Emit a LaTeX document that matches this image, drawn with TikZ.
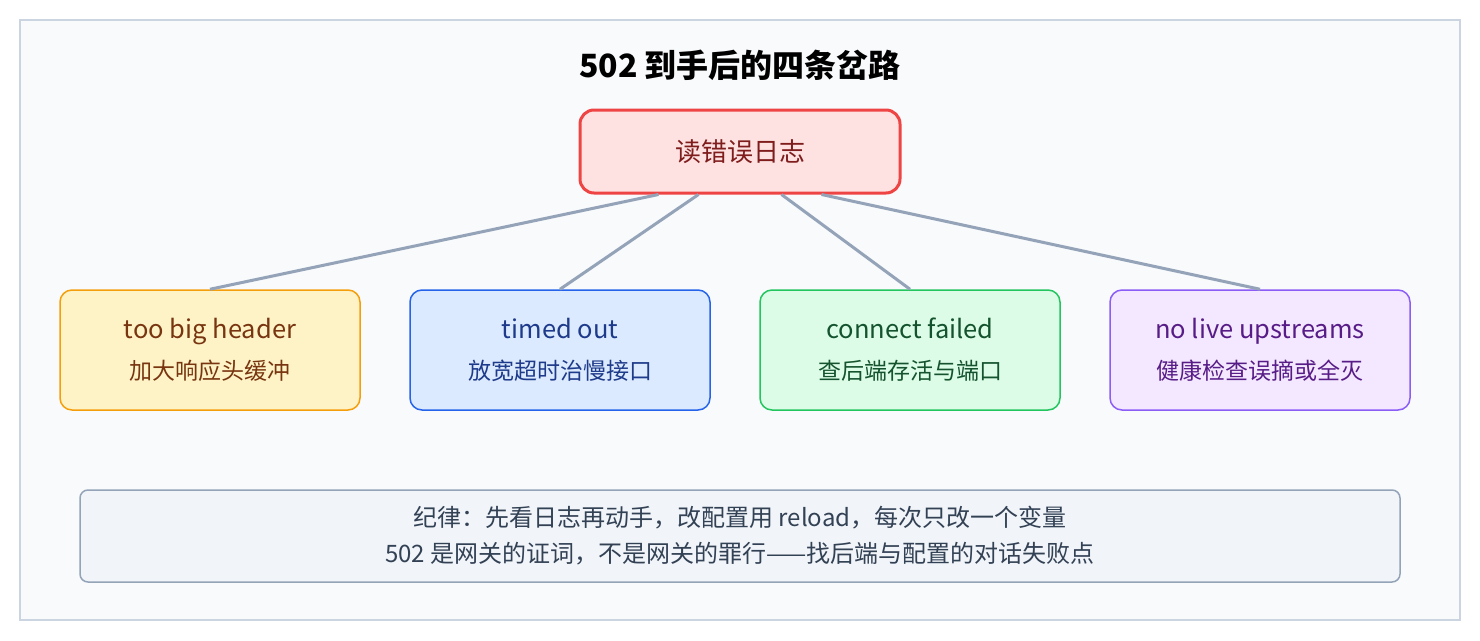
\documentclass[tikz,border=0pt]{standalone}
\usepackage{fontspec}
\setmainfont{Noto Sans CJK SC}
\usetikzlibrary{positioning}
\definecolor{bgfill}{HTML}{F8FAFC}
\definecolor{bgline}{HTML}{CBD5E1}
\definecolor{linkc}{HTML}{94A3B8}
\definecolor{rootline}{HTML}{EF4444}
\definecolor{rootfill}{HTML}{FEE2E2}
\definecolor{roottext}{HTML}{7F1D1D}
\definecolor{oline}{HTML}{F59E0B}\definecolor{ofill}{HTML}{FEF3C7}\definecolor{otext}{HTML}{78350F}
\definecolor{bline}{HTML}{2563EB}\definecolor{bfill}{HTML}{DBEAFE}\definecolor{btext}{HTML}{1E3A8A}
\definecolor{gline}{HTML}{22C55E}\definecolor{gfill}{HTML}{DCFCE7}\definecolor{gtext}{HTML}{14532D}
\definecolor{pline}{HTML}{8B5CF6}\definecolor{pfill}{HTML}{F3E8FF}\definecolor{ptext}{HTML}{581C87}
\definecolor{notefill}{HTML}{F1F5F9}
\definecolor{notetext}{HTML}{334155}
\tikzset{
  branch/.style={draw=#1line, fill=#1fill, text=#1text, line width=1.5pt, rounded corners=12pt,
    minimum width=300pt, minimum height=120pt, align=center, font=\fontsize{25.5}{41}\selectfont},
  link/.style={draw=linkc, line width=3pt}
}
\begin{document}
\begin{tikzpicture}[x=1pt, y=-1pt]

	% Frame
	\useasboundingbox (0,0) rectangle (1480,640);
	\draw[fill=bgfill, draw=bgline, line width=1.5pt] (20,20) rectangle (1460,620);
	\node[font=\fontsize{32}{36}\selectfont\bfseries, text=black] (title) at (740,65) {502 到手后的四条岔路};

	% Root
	\node[draw=rootline, fill=rootfill, text=roottext, line width=3pt, rounded corners=14pt,
	  minimum width=320pt, minimum height=83pt, font=\fontsize{26}{30}\selectfont] (log) at (740,151.5) {读错误日志};

	% Branches
	\node[branch=o] (header) at (210,350) {too big header\\{\fontsize{23}{26}\selectfont 加大响应头缓冲}};
	\node[branch=b] (timeout) at (560,350) {timed out\\{\fontsize{23}{26}\selectfont 放宽超时治慢接口}};
	\node[branch=g] (connect) at (910,350) {connect failed\\{\fontsize{23}{26}\selectfont 查后端存活与端口}};
	\node[branch=p] (nolive) at (1260,350) {no live upstreams\\{\fontsize{23}{26}\selectfont 健康检查误摘或全灭}};

	% Links
	\draw[link] ([xshift=80pt]log.south west) -- (header.north);
	\draw[link] ([xshift=120pt]log.south west) -- (timeout.north);
	\draw[link] ([xshift=-120pt]log.south east) -- (connect.north);
	\draw[link] ([xshift=-80pt]log.south east) -- (nolive.north);

	% Note
	\node[draw=linkc, fill=notefill, text=notetext, line width=1.5pt, rounded corners=8pt,
	  minimum width=1320pt, minimum height=92pt, align=center, font=\fontsize{24}{36}\selectfont] (rule) at (740,536)
	  {纪律：先看日志再动手，改配置用 reload，每次只改一个变量\\502 是网关的证词，不是网关的罪行——找后端与配置的对话失败点};

\end{tikzpicture}
\end{document}
